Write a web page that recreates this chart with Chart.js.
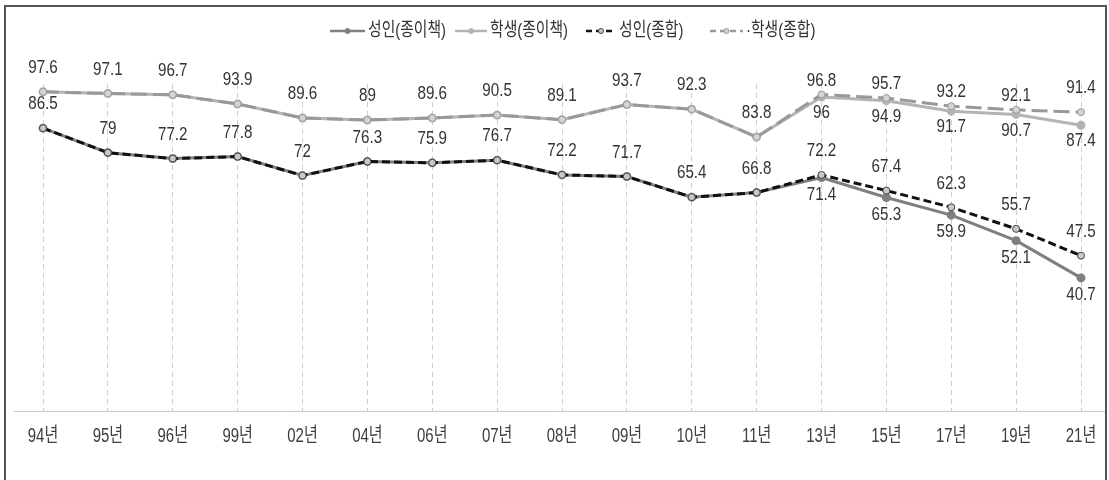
<!DOCTYPE html>
<html>
<head>
<meta charset="utf-8">
<script src="https://cdn.jsdelivr.net/npm/chart.js@4/dist/chart.umd.min.js"></script>
<style>
  html, body { margin: 0; padding: 0; background: #fff; }
  #wrap { width: 1109px; height: 480px; position: relative; }
</style>
</head>
<body>
<div id="wrap"><canvas id="chart" width="1109" height="480"></canvas></div>
<script>
// categories and values
const years = ['94년', '95년', '96년', '99년', '02년', '04년', '06년', '07년', '08년', '09년', '10년', '11년', '13년', '15년', '17년', '19년', '21년'];
const adultPaper = [86.5, 79, 77.2, 77.8, 72, 76.3, 75.9, 76.7, 72.2, 71.7, 65.4, 66.8, 71.4, 65.3, 59.9, 52.1, 40.7];
const studentPaper = [97.6, 97.1, 96.7, 93.9, 89.6, 89, 89.6, 90.5, 89.1, 93.7, 92.3, 83.8, 96, 94.9, 91.7, 90.7, 87.4];
const adultTotal = [86.5, 79, 77.2, 77.8, 72, 76.3, 75.9, 76.7, 72.2, 71.7, 65.4, 66.8, 72.2, 67.4, 62.3, 55.7, 47.5];
const studentTotal = [97.6, 97.1, 96.7, 93.9, 89.6, 89, 89.6, 90.5, 89.1, 93.7, 92.3, 83.8, 96.8, 95.7, 93.2, 92.1, 91.4];

const FONT = '"Liberation Sans", "Noto Sans CJK KR", sans-serif';

// narrow text: the original uses a condensed face, so squeeze horizontally
function narrowText(ctx, text, x, y, size, sx) {
    ctx.save();
    ctx.translate(x, y);
    ctx.scale(sx, 1);
    ctx.font = size + 'px ' + FONT;
    ctx.fillText(text, 0, 0);
    ctx.restore();
}

// value labels: which points get a label and where (negative = above)
function labelOffset(dsIndex, i) {
    if (dsIndex === 0) return i >= 12 ? 17 : null;
    if (dsIndex === 1) return i >= 12 ? 16 : null;
    if (dsIndex === 2) return -24;
    if (dsIndex === 3) return (i >= 12 && i < 16) ? -14 : -24;
    return null;
}

const valueLabels = {
    id: 'valueLabels',
    afterDatasetsDraw(chart) {
        const ctx = chart.ctx;
        ctx.save();
        ctx.fillStyle = '#333';
        ctx.textAlign = 'center';
        ctx.textBaseline = 'middle';
        chart.data.datasets.forEach((ds, di) => {
            const meta = chart.getDatasetMeta(di);
            meta.data.forEach((pt, i) => {
                const off = labelOffset(di, i);
                if (off === null) return;
                narrowText(ctx, String(ds.data[i]), pt.x, pt.y + off, 19, 0.8);
            });
        });
        ctx.restore();
    }
};

// axis line, tick labels, legend and outer frame
const decorations = {
    id: 'decorations',
    beforeDatasetsDraw(chart) {
        const ctx = chart.ctx;
        const y = chart.chartArea.bottom + 0.5;
        ctx.save();
        ctx.strokeStyle = '#c8c8c8';
        ctx.lineWidth = 1;
        ctx.beginPath();
        ctx.moveTo(14, y);
        ctx.lineTo(1105, y);
        ctx.stroke();
        const xs = chart.scales.x;
        ctx.fillStyle = '#3e3e3e';
        ctx.textAlign = 'center';
        ctx.textBaseline = 'middle';
        years.forEach((t, i) => {
            narrowText(ctx, t, xs.getPixelForValue(i), 436, 20, 0.75);
        });
        ctx.restore();
    },
    afterDraw(chart) {
        const ctx = chart.ctx;
        ctx.save();
        // legend
        const items = [
            { text: '성인(종이책)', x: 330, w: 35, ds: 0 },
            { text: '학생(종이책)', x: 455, w: 32, ds: 1 },
            { text: '성인(종합)', x: 586, w: 30, ds: 2 },
            { text: '·학생(종합)', x: 710, w: 33, ds: 3 }
        ];
        const ly = 31;
        ctx.textBaseline = 'middle';
        ctx.textAlign = 'left';
        items.forEach(it => {
            const ds = chart.data.datasets[it.ds];
            ctx.strokeStyle = ds.borderColor;
            ctx.lineWidth = 2.5;
            ctx.setLineDash(ds.borderDash && ds.borderDash.length ? [6, 4] : []);
            ctx.beginPath();
            ctx.moveTo(it.x, ly);
            ctx.lineTo(it.x + it.w, ly);
            ctx.stroke();
            ctx.setLineDash([]);
            ctx.fillStyle = ds.pointBackgroundColor;
            ctx.strokeStyle = ds.pointBorderColor;
            ctx.lineWidth = 1;
            ctx.beginPath();
            ctx.arc(it.x + it.w / 2, ly, 2.5, 0, Math.PI * 2);
            ctx.fill();
            ctx.stroke();
            ctx.fillStyle = '#333';
            narrowText(ctx, it.text, it.x + it.w + 3, ly, 19, 0.78);
        });
        // frame
        ctx.strokeStyle = '#555';
        ctx.lineWidth = 2;
        ctx.strokeRect(5, 6, 1101, 520);
        ctx.restore();
    }
};

new Chart(document.getElementById('chart'), {
    type: 'line',
    data: {
        labels: years,
        datasets: [{
            label: '성인(종이책)',
            data: adultPaper,
            borderColor: '#7f7f7f',
            borderWidth: 3,
            pointRadius: 3,
            pointBackgroundColor: '#7f7f7f',
            pointBorderColor: '#7f7f7f',
            order: 2
        }, {
            label: '학생(종이책)',
            data: studentPaper,
            borderColor: '#b4b4b4',
            borderWidth: 3,
            pointRadius: 3,
            pointBackgroundColor: '#b4b4b4',
            pointBorderColor: '#b4b4b4',
            order: 3
        }, {
            label: '성인(종합)',
            data: adultTotal,
            borderColor: '#111',
            borderWidth: 3,
            borderDash: [8, 4],
            pointRadius: 3.5,
            pointBackgroundColor: '#c8c8c8',
            pointBorderColor: '#444',
            pointBorderWidth: 1,
            order: 0
        }, {
            label: '학생(종합)',
            data: studentTotal,
            borderColor: '#999',
            borderWidth: 3,
            borderDash: [16, 6],
            pointRadius: 3.5,
            pointBackgroundColor: '#d4d4d4',
            pointBorderColor: '#999',
            pointBorderWidth: 1,
            order: 1
        }]
    },
    options: {
        responsive: false,
        animation: false,
        layout: {
            padding: { top: 84, left: 43, right: 28, bottom: 0 }
        },
        plugins: {
            legend: { display: false },
            tooltip: { enabled: false }
        },
        scales: {
            x: {
                offset: false,
                afterFit: s => { s.height = 69; },
                grid: {
                    color: '#cfcfcf',
                    lineWidth: 1,
                    drawTicks: false
                },
                border: { display: false, dash: [5, 4] },
                ticks: { display: false, autoSkip: false }
            },
            y: {
                display: false,
                min: 0,
                max: 100
            }
        }
    },
    plugins: [decorations, valueLabels]
});
</script>
</body>
</html>
